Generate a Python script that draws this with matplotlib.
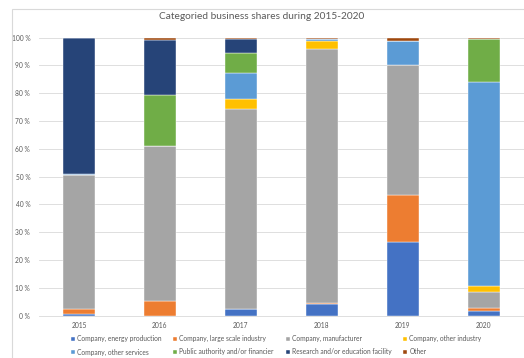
import matplotlib
matplotlib.use("Agg")
import matplotlib.pyplot as plt
import matplotlib.patches as mpatches
import numpy as np

plt.rcParams['font.family'] = ['Lato', 'DejaVu Sans']

years = ['2015', '2016', '2017', '2018', '2019', '2020']

# shares in percent, bottom to top
energy = [0.4, 0.0, 2.4, 4.1, 26.6, 1.7]
large_scale = [1.8, 5.4, 0.0, 0.3, 16.7, 1.1]
manufacturer = [48.4, 55.6, 71.8, 91.7, 46.9, 5.8]
other_industry = [0.0, 0.0, 3.9, 2.7, 0.0, 2.2]
other_services = [0.2, 0.0, 9.1, 0.6, 8.5, 73.4]
public = [0.0, 18.4, 7.2, 0.0, 0.0, 15.4]
research = [49.2, 19.9, 5.1, 0.0, 0.0, 0.0]
other = [0.0, 0.7, 0.5, 0.6, 1.3, 0.4]

series = [
    ('Company, energy production', energy, '#4472C4'),
    ('Company, large scale industry', large_scale, '#ED7D31'),
    ('Company, manufacturer', manufacturer, '#A5A5A5'),
    ('Company, other industry', other_industry, '#FFC000'),
    ('Company, other services', other_services, '#5B9BD5'),
    ('Public authority and/or financier', public, '#70AD47'),
    ('Research and/or education facility', research, '#264478'),
    ('Other', other, '#9E480E'),
]

txt = '#595959'

fig = plt.figure(figsize=(5.24, 3.58), dpi=100, facecolor='white')
fig.patches.append(mpatches.Rectangle((12 / 524, -0.1), 1.2, 1.1 - 9 / 358,
                                      transform=fig.transFigure, fill=False,
                                      edgecolor='#d9d9d9', linewidth=0.8))
ax = fig.add_axes([0.0735, 0.1187, 0.9265, 0.776])

x = np.arange(len(years))
bottom = np.zeros(len(years))
handles = []
for name, vals, col in series:
    vals = np.array(vals)
    b = ax.bar(x, vals, 0.395, bottom=bottom, color=col, label=name,
               edgecolor='white', linewidth=0.3, zorder=3)
    handles.append(b)
    bottom += vals

ax.set_xlim(-0.5, len(years) - 0.5)
ax.set_ylim(0, 100)
ax.set_yticks(range(0, 101, 10))
ax.set_yticklabels([f'{v} %' for v in range(0, 101, 10)])
ax.set_xticks(x)
ax.set_xticklabels(years)
ax.tick_params(axis='both', length=0, labelsize=4.8, colors=txt)
ax.tick_params(axis='y', pad=6)
ax.tick_params(axis='x', pad=5)
ax.grid(axis='y', color='#d9d9d9', linewidth=0.6, zorder=0)
for s in ['top', 'right', 'left']:
    ax.spines[s].set_visible(False)
ax.spines['bottom'].set_color('#d9d9d9')
ax.spines['bottom'].set_linewidth(0.6)

fig.text(0.5, 0.955, 'Categoried business shares during 2015-2020',
         ha='center', va='center', fontsize=7.3, color=txt)

# legend filled row by row like the original
order = [0, 4, 1, 5, 2, 6, 3, 7]
leg = fig.legend([handles[i] for i in order], [series[i][0] for i in order],
                 loc='center left', bbox_to_anchor=(0.135, 0.035), ncol=4,
                 frameon=False, fontsize=4.8, handlelength=0.6,
                 handleheight=0.6, handletextpad=0.3, columnspacing=1.8,
                 labelspacing=0.9, borderaxespad=0, borderpad=0)
for t in leg.get_texts():
    t.set_color(txt)

fig.savefig('out.png', dpi=100, facecolor='white')
